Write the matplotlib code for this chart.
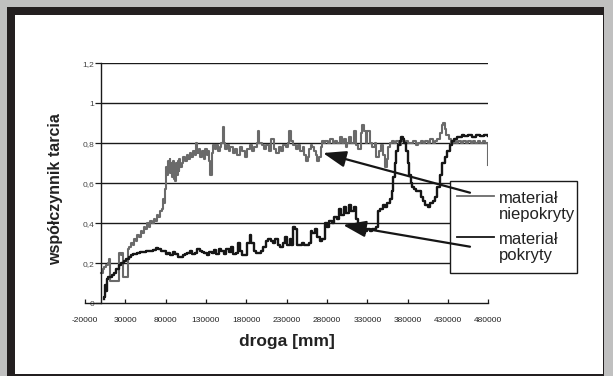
import matplotlib
matplotlib.use("Agg")
import matplotlib.pyplot as plt
from matplotlib.patches import Rectangle, FancyArrowPatch
import numpy as np

plt.rcParams['font.family'] = ['Liberation Sans', 'DejaVu Sans']

# ---------------- data ----------------
gray_x_k = [0, 2, 4, 6, 8, 10, 10.5, 16, 22, 22.5,
            25, 26, 26.5, 32, 33, 35, 37, 39, 41, 43,
            45, 47, 49, 51, 53, 55, 57, 59, 61, 63,
            65, 67, 69, 71, 73, 75, 77, 78, 79, 80,
            81, 82, 83, 84, 85, 86, 87, 88, 89, 90,
            91, 92, 93, 94, 95, 96, 97, 98, 100, 102,
            104, 106, 108, 110, 112, 114, 116, 118, 119, 121,
            123, 125, 127, 129, 131, 133, 134, 135.5, 137, 139,
            141, 143, 145, 147, 149, 150.5, 152, 154, 156, 158,
            160, 163, 166, 169, 172, 175, 178, 181, 184, 187,
            190, 193, 194.5, 196, 199, 202, 205, 208, 211, 214,
            217, 220, 223, 226, 229, 232, 233.5, 235, 238, 241,
            244, 247, 250, 252, 254, 256, 258, 260, 262, 264,
            266, 268, 270, 272, 274, 276, 278, 281, 284, 287,
            290, 293, 296, 299, 301, 303, 305, 307, 310, 313,
            316, 319, 322, 324, 326, 328, 330, 333, 336, 339,
            341, 344, 347, 350, 352, 354, 356, 358, 360, 363,
            366, 369, 372, 375, 378, 381, 384, 387, 390, 393,
            396, 399, 402, 405, 408, 411, 414, 417, 420, 422,
            424, 426, 428, 431, 434, 437, 440, 443, 446, 449,
            452, 455, 458, 461, 464, 467, 470, 473, 476, 479,
            480]
gray_y = [0.15, 0.17, 0.18, 0.19, 0.20, 0.22, 0.11, 0.11, 0.11, 0.25,
          0.24, 0.25, 0.13, 0.13, 0.27, 0.28, 0.30, 0.29, 0.32, 0.31,
          0.34, 0.33, 0.36, 0.35, 0.38, 0.37, 0.40, 0.38, 0.41, 0.40,
          0.42, 0.41, 0.44, 0.43, 0.46, 0.47, 0.52, 0.50, 0.57, 0.62,
          0.68, 0.64, 0.71, 0.66, 0.72, 0.65, 0.70, 0.63, 0.71, 0.62,
          0.69, 0.61, 0.70, 0.64, 0.71, 0.66, 0.72, 0.68, 0.70, 0.73,
          0.71, 0.74, 0.72, 0.75, 0.73, 0.76, 0.74, 0.80, 0.75, 0.77,
          0.73, 0.76, 0.72, 0.77, 0.74, 0.76, 0.71, 0.64, 0.75, 0.79,
          0.77, 0.79, 0.76, 0.78, 0.80, 0.88, 0.80, 0.77, 0.79, 0.76,
          0.78, 0.75, 0.77, 0.74, 0.78, 0.76, 0.73, 0.77, 0.79, 0.76,
          0.78, 0.80, 0.86, 0.80, 0.79, 0.77, 0.79, 0.76, 0.82, 0.77,
          0.75, 0.78, 0.76, 0.79, 0.78, 0.80, 0.86, 0.81, 0.79, 0.77,
          0.79, 0.76, 0.78, 0.74, 0.71, 0.73, 0.77, 0.79, 0.78, 0.76,
          0.74, 0.71, 0.73, 0.78, 0.81, 0.80, 0.81, 0.80, 0.82, 0.80,
          0.81, 0.80, 0.83, 0.80, 0.82, 0.78, 0.80, 0.83, 0.80, 0.86,
          0.79, 0.77, 0.85, 0.89, 0.86, 0.80, 0.86, 0.80, 0.78, 0.80,
          0.73, 0.76, 0.79, 0.74, 0.68, 0.72, 0.78, 0.80, 0.81, 0.80,
          0.81, 0.79, 0.81, 0.80, 0.81, 0.80, 0.80, 0.81, 0.79, 0.80,
          0.81, 0.80, 0.81, 0.80, 0.82, 0.80, 0.81, 0.82, 0.85, 0.89,
          0.90, 0.87, 0.84, 0.82, 0.80, 0.81, 0.80, 0.81, 0.80, 0.81,
          0.80, 0.81, 0.80, 0.81, 0.80, 0.81, 0.80, 0.81, 0.80, 0.80,
          0.69]

black_x_k = [3, 4, 5, 6, 7, 8, 10, 13, 16, 19,
             22, 25, 28, 31, 34, 37, 40, 44, 48, 52,
             56, 60, 64, 68, 71, 74, 77, 80, 83, 86,
             89, 92, 95, 98, 101, 104, 107, 110, 113, 116,
             119, 122, 125, 128, 131, 134, 137, 140, 143, 146,
             149, 152, 155, 158, 161, 164, 167, 170, 172, 175,
             178, 181, 184, 186, 189, 192, 195, 198, 201, 204,
             207, 210, 213, 216, 219, 222, 225, 228, 231, 234,
             236, 238, 240, 243, 246, 249, 252, 255, 258, 260,
             262, 265, 268, 271, 274, 277, 280, 283, 286, 289,
             292, 295, 298, 301, 304, 307, 310, 313, 316, 318,
             321, 324, 327, 330, 333, 336, 339, 341, 343, 346,
             349, 352, 355, 358, 360, 362, 364, 366, 368, 370,
             372, 374, 376, 378, 380, 382, 384, 386, 388, 390,
             393, 396, 399, 402, 405, 408, 411, 414, 417, 420,
             423, 426, 429, 432, 435, 438, 441, 444, 447, 450,
             455, 460, 465, 470, 475, 480]
black_y = [0.02, 0.03, 0.09, 0.06, 0.12, 0.13, 0.13, 0.14, 0.15, 0.17,
           0.19, 0.20, 0.21, 0.22, 0.23, 0.24, 0.245, 0.25, 0.255, 0.255,
           0.26, 0.26, 0.265, 0.275, 0.27, 0.26, 0.26, 0.245, 0.25, 0.24,
           0.255, 0.245, 0.23, 0.23, 0.24, 0.245, 0.25, 0.26, 0.245, 0.25,
           0.27, 0.26, 0.255, 0.25, 0.24, 0.255, 0.25, 0.265, 0.245, 0.27,
           0.26, 0.245, 0.27, 0.255, 0.28, 0.245, 0.25, 0.30, 0.26, 0.24,
           0.24, 0.30, 0.34, 0.30, 0.26, 0.25, 0.25, 0.26, 0.28, 0.31,
           0.32, 0.31, 0.30, 0.32, 0.29, 0.28, 0.30, 0.33, 0.29, 0.32,
           0.29, 0.38, 0.37, 0.29, 0.29, 0.30, 0.29, 0.29, 0.30, 0.36,
           0.35, 0.37, 0.33, 0.31, 0.32, 0.40, 0.38, 0.41, 0.40, 0.43,
           0.42, 0.47, 0.44, 0.48, 0.45, 0.49, 0.46, 0.48, 0.42, 0.38,
           0.36, 0.35, 0.36, 0.37, 0.36, 0.37, 0.37, 0.38, 0.46, 0.47,
           0.49, 0.48, 0.50, 0.52, 0.56, 0.63, 0.70, 0.76, 0.79, 0.81,
           0.83, 0.82, 0.80, 0.76, 0.70, 0.64, 0.60, 0.58, 0.57, 0.56,
           0.56, 0.53, 0.51, 0.49, 0.48, 0.50, 0.51, 0.53, 0.58, 0.64,
           0.70, 0.73, 0.76, 0.79, 0.81, 0.82, 0.83, 0.83, 0.84, 0.835,
           0.84, 0.83, 0.84, 0.835, 0.84, 0.835]

x_ticks = [-20000, 30000, 80000, 130000, 180000, 230000, 280000,
           330000, 380000, 430000, 480000]
y_ticks = [0, 0.2, 0.4, 0.6, 0.8, 1.0, 1.2]
y_tick_labels = ["0", "0,2", "0,4", "0,6", "0,8", "1", "1,2"]
legend_labels = ["materiał\nniepokryty", "materiał\npokryty"]

# ---------------- figure ----------------
W, H = 613, 376
fig = plt.figure(figsize=(W / 100, H / 100), dpi=100)
fig.patch.set_facecolor('#c0c0c0')

def fx(px):
    return px / W

def fy(py):
    return 1 - py / H

# background axes holding the frame
bg = fig.add_axes([0, 0, 1, 1], zorder=-10)
bg.set_xlim(0, W)
bg.set_ylim(H, 0)
bg.axis('off')
bg.add_patch(Rectangle((7, 7), 604 - 7, H, facecolor='#231f20', edgecolor='none'))
bg.add_patch(Rectangle((15, 15), 603 - 15, 374 - 15, facecolor='white', edgecolor='none'))

left, right = fx(85), fx(488.3)
bottom, top = fy(303.3), fy(63.3)
ax = fig.add_axes([left, bottom, right - left, top - bottom], zorder=1)
ax.set_facecolor('none')
ax.set_xlim(-20000, 480000)
ax.set_ylim(0, 1.2)

# gridlines from the value axis (x=0) to the end
for yv in y_ticks[1:]:
    ax.plot([0, 480000], [yv, yv], color='#1a1a1a', lw=1.0, zorder=1, solid_capstyle='butt')

gx = np.array(gray_x_k) * 1000
bx = np.array(black_x_k) * 1000
ax.plot(gx, gray_y, color='#6a6a6a', lw=1.5, drawstyle='steps-post', zorder=2)
ax.plot(bx, black_y, color='#161616', lw=1.7, drawstyle='steps-post', zorder=3)

for s in ['top', 'right']:
    ax.spines[s].set_visible(False)
ax.spines['left'].set_position(('data', 0))
ax.spines['left'].set_color('#1a1a1a')
ax.spines['bottom'].set_color('#1a1a1a')
ax.spines['left'].set_linewidth(1.0)
ax.spines['bottom'].set_linewidth(1.0)

ax.set_xticks(x_ticks)
ax.set_xticklabels([str(v) for v in x_ticks], fontsize=6)
ax.set_yticks(y_ticks)
ax.set_yticklabels(y_tick_labels, fontsize=6)
ax.tick_params(axis='x', direction='in', length=3, width=0.9, pad=10, colors='#1a1a1a', labelcolor='#222222')
ax.tick_params(axis='y', direction='out', length=4, width=0.9, pad=1, colors='#1a1a1a', labelcolor='#444444')

# overlay axes for annotations
ov = fig.add_axes([0, 0, 1, 1], zorder=5)
ov.set_xlim(0, W)
ov.set_ylim(H, 0)
ov.axis('off')
ov.patch.set_alpha(0)

ov.text(286.7, 341.7, "droga [mm]", fontsize=12.5, fontweight='bold',
        ha='center', va='center', color='#222222')
ov.text(56, 189, "współczynnik tarcia", fontsize=11.5, fontweight='bold',
        ha='center', va='center', rotation=90, color='#222222')

# legend box
ov.add_patch(Rectangle((450, 180.7), 126.7, 92, facecolor='white', edgecolor='#1a1a1a',
                       lw=1.0, zorder=5))
ov.plot([456.7, 494], [195.7, 195.7], color='#6a6a6a', lw=1.3, zorder=6)
ov.plot([456.7, 494], [237.3, 237.3], color='#161616', lw=1.3, zorder=6)
ov.text(499, 206.5, legend_labels[0], fontsize=12, ha='left', va='center',
        linespacing=1.1, color='#222222', zorder=7)
ov.text(499, 247.5, legend_labels[1], fontsize=12, ha='left', va='center',
        linespacing=1.1, color='#222222', zorder=7)

# arrows
for (tx, ty), (hx, hy) in [((470, 192.7), (323, 153)), ((470, 246.7), (343, 225))]:
    ov.add_patch(FancyArrowPatch(
        (tx, ty), (hx, hy),
        arrowstyle='-|>,head_length=14,head_width=5', mutation_scale=1,
        color='#161616', lw=1.6, shrinkA=0, shrinkB=0, zorder=8))

fig.savefig("out.png", dpi=100, facecolor=fig.get_facecolor())
